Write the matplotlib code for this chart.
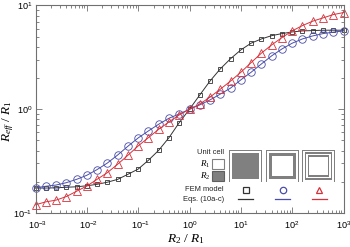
import matplotlib
matplotlib.use("Agg")
import matplotlib.pyplot as plt
from matplotlib.patches import Rectangle
from matplotlib.lines import Line2D
from matplotlib.ticker import LogLocator, NullFormatter
from matplotlib.transforms import ScaledTranslation

W, H = 350, 247
GRAY = "#808080"
BLACK = "#333333"
BLUE = "#4a4ea8"
RED = "#d8303a"

plt.rcParams["font.family"] = ["Liberation Sans", "DejaVu Sans"]
plt.rcParams["mathtext.fontset"] = "custom"
plt.rcParams["mathtext.rm"] = "Liberation Serif"
plt.rcParams["mathtext.sf"] = "Liberation Sans"
plt.rcParams["mathtext.it"] = "Liberation Serif:italic"

ratio = [1e-3, 1.58e-3, 2.51e-3, 3.98e-3, 6.31e-3,
         1e-2, 1.58e-2, 2.51e-2, 3.98e-2, 6.31e-2,
         1e-1, 1.58e-1, 2.51e-1, 3.98e-1, 6.31e-1,
         1.0, 1.58, 2.51, 3.98, 6.31,
         10, 15.8, 25.1, 39.8, 63.1,
         100, 158, 251, 398, 631, 1000]

r_square = [0.174, 0.174, 0.175, 0.177, 0.179, 0.183, 0.189, 0.198, 0.211, 0.236,
            0.265, 0.322, 0.402, 0.532, 0.743, 1.0, 1.37, 1.87, 2.45, 3.07,
            3.73, 4.33, 4.76, 5.12, 5.36, 5.56, 5.69, 5.73, 5.78, 5.78, 5.78]
r_circle = [0.175, 0.181, 0.186, 0.196, 0.211, 0.231, 0.262, 0.303, 0.362, 0.440,
            0.529, 0.618, 0.717, 0.819, 0.901, 1.0, 1.10, 1.23, 1.40, 1.60,
            1.92, 2.27, 2.73, 3.27, 3.81, 4.33, 4.76, 5.09, 5.36, 5.53, 5.69]
r_triangle = [0.120, 0.128, 0.133, 0.144, 0.162, 0.182, 0.211, 0.245, 0.295, 0.360,
              0.443, 0.532, 0.641, 0.755, 0.881, 1.0, 1.12, 1.31, 1.56, 1.87,
              2.27, 2.81, 3.47, 4.17, 4.90, 5.69, 6.40, 7.06, 7.59, 8.17, 8.55]

decades = [1e-3, 1e-2, 1e-1, 1e0, 1e1, 1e2, 1e3]
decade_labels = ["$\\mathsf{10^{-3}}$", "$\\mathsf{10^{-2}}$", "$\\mathsf{10^{-1}}$",
                 "$\\mathsf{10^{0}}$", "$\\mathsf{10^{1}}$", "$\\mathsf{10^{2}}$",
                 "$\\mathsf{10^{3}}$"]


def px_rect(fig, x0, y0, x1, y1, **kw):
    # rectangle given in image pixels, y measured from the top
    fig.add_artist(Rectangle((x0 / W, 1 - y1 / H), (x1 - x0) / W, (y1 - y0) / H,
                             transform=fig.transFigure, **kw))


def nested_cell(fig, x0, y0, size, bands):
    # bands: (inset, colour) drawn from the outside in
    for inset, color in bands:
        px_rect(fig, x0 + inset, y0 + inset, x0 + size - inset, y0 + size - inset,
                facecolor=color, edgecolor="none")


fig = plt.figure(figsize=(W / 100, H / 100), dpi=100)
ax = fig.add_axes([35.5 / W, 1 - 213 / H, (343.5 - 35.5) / W, (213 - 5.5) / H])
ax.set_xscale("log")
ax.set_yscale("log")
ax.set_xlim(1e-3, 1e3)
ax.set_ylim(1e-1, 1e1)

ax.plot(ratio, r_square, color=BLACK, lw=0.7, marker="s", ms=3.4, mfc="none", mew=0.6, clip_on=False)
ax.plot(ratio, r_circle, color=BLUE, lw=0.7, marker="o", ms=5.4, mfc="none", mew=0.6, clip_on=False)
ax.plot(ratio, r_triangle, color=RED, lw=0.7, marker="^", ms=5.8, mfc="none", mew=0.6, clip_on=False)

for spine in ax.spines.values():
    spine.set_color("#707070")
    spine.set_linewidth(0.8)

ax.set_xticks(decades)
ax.set_xticklabels(decade_labels, fontsize=6.6)
ax.set_yticks([1e-1, 1e0, 1e1])
ax.set_yticklabels(["$\\mathsf{10^{-1}}$", "$\\mathsf{10^{0}}$", "$\\mathsf{10^{1}}$"], fontsize=6.6)
for axis in (ax.xaxis, ax.yaxis):
    axis.set_minor_locator(LogLocator(base=10, subs=range(2, 10), numticks=12))
    axis.set_minor_formatter(NullFormatter())
ax.tick_params(which="major", direction="in", length=4.3, width=0.6, color="#707070", top=True, right=True)
ax.tick_params(which="minor", direction="in", length=2.2, width=0.6, color="#707070", top=True, right=True)
ax.tick_params(axis="x", which="major", pad=4.5)
ax.tick_params(axis="y", which="major", pad=2)

# negative exponents sit a little right of their ticks
for label in ax.get_xticklabels()[:3]:
    label.set_transform(label.get_transform() + ScaledTranslation(2 / 100, 0, fig.dpi_scale_trans))

fig.text(186 / W, 1 - 239.3 / H, "$\\mathit{R}_2\\ /\\ \\mathit{R}_1$", fontsize=9.6, ha="center", va="center")
fig.text(8 / W, 1 - 121.5 / H, "$\\mathit{R}_{\\mathit{eff}}\\ /\\ \\mathit{R}_1$", fontsize=9.5,
         rotation=90, ha="center", va="center")

# legend block drawn in image pixels
px_rect(fig, 212.3, 158.7, 224, 168.7, facecolor="white", edgecolor=GRAY, lw=0.8)
px_rect(fig, 212.3, 171.3, 224, 181, facecolor=GRAY, edgecolor="#606060", lw=0.8)
fig.text(224 / W, 1 - 153 / H, "Unit cell", fontsize=5.4, ha="right", va="center", color="#222222")
fig.text(210 / W, 1 - 164 / H, "$\\mathit{R}_1$", fontsize=6.5, ha="right", va="center")
fig.text(210 / W, 1 - 176 / H, "$\\mathit{R}_2$", fontsize=6.5, ha="right", va="center")
fig.text(224 / W, 1 - 189 / H, "FEM model", fontsize=5.4, ha="right", va="center", color="#222222")
fig.text(224 / W, 1 - 199 / H, "Eqs. (10a-c)", fontsize=5.4, ha="right", va="center", color="#222222")

nested_cell(fig, 229.3, 149.8, 32.6, [(0, GRAY), (0.8, "white"), (3, GRAY)])
nested_cell(fig, 266, 149.8, 32.6, [(0, GRAY), (0.8, "white"), (3, GRAY), (6, "white")])
nested_cell(fig, 302.2, 149.8, 32.6, [(0, GRAY), (0.8, "white"), (2.6, GRAY), (4, "white"),
                                      (5.6, GRAY), (7, "white")])

for xc, color, marker, ms in [(245.5, BLACK, "s", 3.8), (282.8, BLUE, "o", 4.6), (319, RED, "^", 4.6)]:
    fig.add_artist(Line2D([xc / W], [1 - 190 / H], transform=fig.transFigure, marker=marker, ms=ms,
                          mfc="none", mec=color, mew=0.9, ls="none"))
    fig.add_artist(Line2D([(xc - 7.5) / W, (xc + 7.5) / W], [1 - 198.5 / H] * 2,
                          transform=fig.transFigure, color=color, lw=0.9))

fig.savefig("out.png", dpi=100)
